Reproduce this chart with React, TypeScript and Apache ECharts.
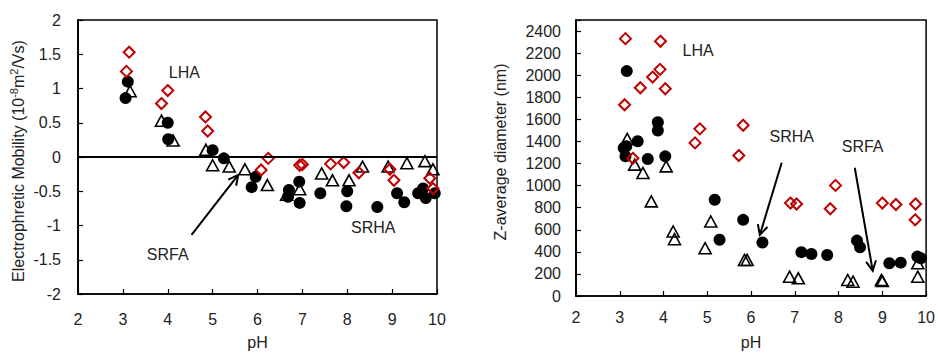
import React, { useEffect, useRef } from 'react';
import * as echarts from 'echarts';

// ---------- Data (pH, value) ----------
const mobilityLHA: [number, number][] = [
  [3.14, 1.53], [3.08, 1.25], [3.86, 0.78], [4.0, 0.97], [4.84, 0.585], [4.89, 0.38],
  [6.08, -0.19], [6.24, -0.02], [6.94, -0.12], [7.0, -0.11], [7.63, -0.1], [7.92, -0.08],
  [8.26, -0.23], [8.95, -0.18], [9.04, -0.34], [9.84, -0.31], [9.91, -0.46],
];
const mobilitySRHA: [number, number][] = [
  [3.11, 1.1], [3.06, 0.86], [4.0, 0.5], [4.01, 0.26], [5.0, 0.1], [5.25, -0.02],
  [5.96, -0.29], [5.87, -0.44], [6.7, -0.48], [6.68, -0.58], [6.93, -0.36], [6.94, -0.67],
  [7.4, -0.53], [8.0, -0.5], [7.98, -0.72], [8.67, -0.73], [9.11, -0.53], [9.27, -0.66],
  [9.58, -0.53], [9.69, -0.46], [9.75, -0.6], [9.95, -0.53],
];
const mobilitySRFA: [number, number][] = [
  [3.16, 0.96], [3.86, 0.53], [4.12, 0.24], [4.85, 0.105], [5.0, -0.12], [5.37, -0.14],
  [5.72, -0.18], [6.22, -0.41], [6.65, -0.55], [6.94, -0.47], [7.43, -0.24], [7.67, -0.34],
  [8.04, -0.34], [8.34, -0.14], [8.91, -0.14], [9.33, -0.09], [9.73, -0.06], [9.91, -0.18],
];

const sizeLHA: [number, number][] = [
  [3.13, 2331], [3.93, 2307], [3.11, 1732], [3.47, 1886], [3.75, 1983], [3.92, 2053],
  [4.04, 1877], [4.83, 1514], [4.72, 1387], [5.82, 1547], [5.72, 1272], [3.3, 1247],
  [6.9, 842], [7.04, 833], [7.93, 1002], [7.81, 790], [9.0, 842], [9.31, 829],
  [9.76, 833], [9.75, 690],
];
const sizeSRHA: [number, number][] = [
  [3.16, 2037], [3.87, 1574], [3.87, 1499], [3.41, 1402], [3.09, 1341], [3.15, 1356],
  [3.13, 1265], [3.64, 1241], [4.04, 1265], [5.17, 872], [5.28, 509], [5.82, 690],
  [6.26, 484], [7.15, 397], [7.38, 381], [7.74, 372], [8.42, 502], [8.49, 442],
  [9.16, 297], [9.42, 302], [9.8, 357], [9.88, 342],
];
const sizeSRFA: [number, number][] = [
  [3.17, 1423], [3.34, 1190], [3.53, 1114], [4.06, 1174], [3.72, 857], [4.22, 584],
  [4.25, 515], [5.08, 675], [4.95, 433], [5.85, 327], [5.91, 327], [6.88, 175],
  [7.08, 160], [8.21, 145], [8.33, 130], [8.98, 145], [9.0, 135], [9.81, 297], [9.81, 175],
];

// annotations: [text, pH, value] per panel
const leftNotes: [string, number, number][] = [
  ['LHA', 4.37, 1.23], ['SRFA', 4.0, -1.42], ['SRHA', 8.58, -1.03],
];
const rightNotes: [string, number, number][] = [
  ['LHA', 4.79, 2228], ['SRHA', 6.93, 1443], ['SRFA', 8.55, 1352],
];
// arrows: [fromPH, fromVal, toPH, toVal]
const leftArrows: [number, number, number, number][] = [[4.53, -1.137, 5.57, -0.262]];
const rightArrows: [number, number, number, number][] = [
  [6.7, 1207, 6.2, 553], [8.37, 1162, 8.78, 229],
];

const FONT = "'Liberation Sans', Arial, Helvetica, sans-serif";
const TXT = '#222';
const RED = '#c00000';

export default function App() {
  const ref = useRef<HTMLDivElement>(null);
  useEffect(() => {
    if (!ref.current) return;
    const chart = echarts.init(ref.current, null, { renderer: 'svg' });

    const xAxisBase = (gi: number, margin: number) => ({
      type: 'value' as const,
      gridIndex: gi,
      min: 2, max: 10, interval: 1,
      axisLine: { show: true, onZero: false, lineStyle: { color: '#000', width: 1.5 } },
      axisTick: { show: true, inside: true, length: 5, lineStyle: { color: '#000', width: 1.2 } },
      axisLabel: { fontSize: 16, fontFamily: FONT, color: TXT, margin },
      splitLine: { show: false },
      name: 'pH',
      nameLocation: 'middle' as const,
      nameGap: gi === 0 ? 40 : 38,
      nameTextStyle: { fontSize: 16, fontFamily: FONT, color: TXT },
    });

    const scat = (
      name: string, data: [number, number][], gi: number,
      kind: 'circle' | 'triangle' | 'diamond', z: number,
    ) => ({
      type: 'scatter' as const,
      name,
      xAxisIndex: gi,
      yAxisIndex: gi,
      data,
      z,
      symbol: kind,
      symbolSize: kind === 'circle' ? 12 : kind === 'triangle' ? [12, 11] : 11,
      itemStyle:
        kind === 'circle'
          ? { color: '#000', opacity: 1 }
          : kind === 'triangle'
            ? { color: 'rgba(0,0,0,0)', borderColor: '#000', borderWidth: 1.6, opacity: 1 }
            : { color: 'rgba(0,0,0,0)', borderColor: RED, borderWidth: 2, opacity: 1 },
      silent: true,
    });

    const option: any = {
      animation: false,
      backgroundColor: '#fff',
      grid: [
        { left: 78, top: 20, width: 359, height: 279, show: true, borderColor: '#000', borderWidth: 1.5, backgroundColor: 'transparent' },
        { left: 576, top: 20, width: 354, height: 276, show: true, borderColor: '#000', borderWidth: 1.5, backgroundColor: 'transparent' },
      ],
      xAxis: [xAxisBase(0, 17), xAxisBase(1, 13)],
      yAxis: [
        {
          type: 'value', gridIndex: 0, min: -2, max: 2, interval: 0.5,
          axisLine: { show: true, lineStyle: { color: '#000', width: 1.8 } },
          axisTick: { show: true, inside: true, length: 5, lineStyle: { color: '#000', width: 1.2 } },
          axisLabel: { fontSize: 16, fontFamily: FONT, color: TXT, margin: 17 },
          splitLine: { show: false },
        },
        {
          type: 'value', gridIndex: 1, min: 0, max: 2500, interval: 200,
          axisLine: { show: true, lineStyle: { color: '#000', width: 1.8 } },
          axisTick: { show: true, inside: true, length: 5, lineStyle: { color: '#000', width: 1.2 } },
          axisLabel: {
            fontSize: 16, fontFamily: FONT, color: TXT, margin: 15,
            formatter: (v: number) => (v > 2400 ? '' : String(v)),
          },
          splitLine: { show: false },
        },
      ],
      series: [
        {
          ...scat('SRHA', mobilitySRHA, 0, 'circle', 2),
          markLine: {
            silent: true, symbol: 'none', label: { show: false },
            lineStyle: { color: '#000', width: 2.2, type: 'solid' },
            data: [{ yAxis: 0 }],
          },
        },
        scat('SRFA', mobilitySRFA, 0, 'triangle', 3),
        scat('LHA', mobilityLHA, 0, 'diamond', 4),
        scat('SRHA', sizeSRHA, 1, 'circle', 2),
        scat('SRFA', sizeSRFA, 1, 'triangle', 3),
        scat('LHA', sizeLHA, 1, 'diamond', 4),
      ],
    };
    chart.setOption(option);

    const graphics: any[] = [];
    const addNotes = (gi: number, notes: [string, number, number][]) => {
      notes.forEach(([t, x, y]) => {
        const p = chart.convertToPixel({ gridIndex: gi } as any, [x, y]) as number[];
        graphics.push({
          type: 'text', x: p[0], y: p[1], z: 10,
          style: { text: t, fontSize: 16, fontFamily: FONT, fill: TXT, align: 'center', verticalAlign: 'middle' },
        });
      });
    };
    const addArrows = (gi: number, arrows: [number, number, number, number][]) => {
      arrows.forEach(([x0, y0, x1, y1]) => {
        const a = chart.convertToPixel({ gridIndex: gi } as any, [x0, y0]) as number[];
        const b = chart.convertToPixel({ gridIndex: gi } as any, [x1, y1]) as number[];
        const dx = b[0] - a[0], dy = b[1] - a[1];
        const len = Math.hypot(dx, dy);
        const ux = dx / len, uy = dy / len;
        const L = 11, ang = (27 * Math.PI) / 180;
        const rot = (s: number) => [
          b[0] - L * (ux * Math.cos(s * ang) - uy * Math.sin(s * ang)),
          b[1] - L * (ux * Math.sin(s * ang) + uy * Math.cos(s * ang)),
        ];
        graphics.push({
          type: 'line', z: 10,
          shape: { x1: a[0], y1: a[1], x2: b[0], y2: b[1] },
          style: { stroke: '#000', lineWidth: 2 },
        });
        graphics.push({
          type: 'polyline', z: 10,
          shape: { points: [rot(1), b, rot(-1)] },
          style: { stroke: '#000', lineWidth: 2, fill: null },
        });
      });
    };
    addNotes(0, leftNotes);
    addNotes(1, rightNotes);
    addArrows(0, leftArrows);
    addArrows(1, rightArrows);

    graphics.push({
      type: 'text', x: 18, y: 161, rotation: Math.PI / 2, z: 10,
      style: {
        text: '{n|Electrophretic Mobility (10}{s|-8}{n|m}{s|2}{n|/Vs)}',
        align: 'center', verticalAlign: 'middle',
        rich: {
          n: { fontSize: 16, lineHeight: 20, fontFamily: FONT, fill: TXT },
          s: { fontSize: 11, lineHeight: 11, fontFamily: FONT, fill: TXT, verticalAlign: 'top' },
        },
      },
    });
    graphics.push({
      type: 'text', x: 500, y: 152, rotation: Math.PI / 2, z: 10,
      style: {
        text: 'Z-average diameter (nm)', fontSize: 16, fontFamily: FONT, fill: TXT,
        align: 'center', verticalAlign: 'middle',
      },
    });

    chart.setOption({ graphic: graphics });
    return () => chart.dispose();
  }, []);

  return (
    <div
      ref={ref}
      style={{ position: 'fixed', left: 0, top: 0, width: 938, height: 355, background: '#fff' }}
    />
  );
}
